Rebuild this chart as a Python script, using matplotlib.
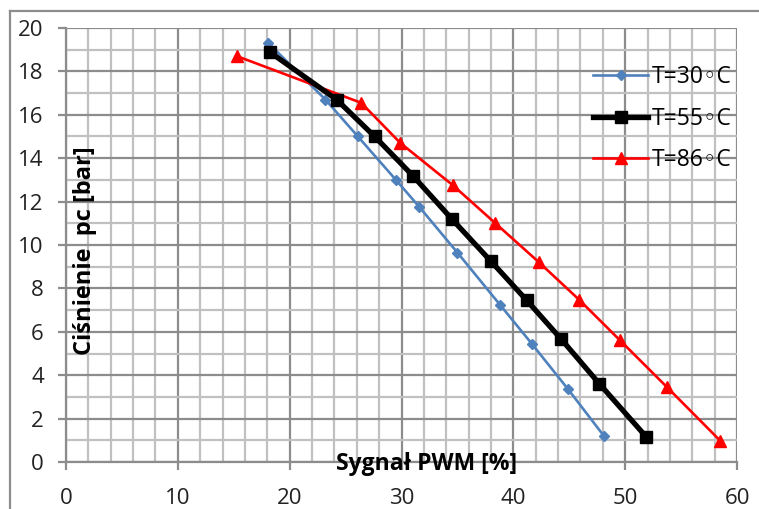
import matplotlib
matplotlib.use("Agg")
import matplotlib.pyplot as plt
from matplotlib.lines import Line2D
from matplotlib.ticker import MultipleLocator

plt.rcParams['font.family'] = ['Open Sans', 'DejaVu Sans']

# dane
pwm_30 = [18.1, 23.2, 26.1, 29.5, 31.6, 35.0, 38.8, 41.65, 44.9, 48.1]
pc_30 = [19.3, 16.7, 15.0, 13.0, 11.75, 9.65, 7.25, 5.45, 3.35, 1.2]

pwm_55 = [18.2, 24.2, 27.6, 31.0, 34.5, 38.0, 41.2, 44.3, 47.7, 51.9]
pc_55 = [18.9, 16.7, 15.0, 13.2, 11.2, 9.25, 7.45, 5.65, 3.6, 1.15]

pwm_86 = [15.3, 26.4, 29.9, 34.6, 38.4, 42.3, 45.9, 49.55, 53.7, 58.5]
pc_86 = [18.7, 16.55, 14.7, 12.75, 11.0, 9.2, 7.47, 5.6, 3.47, 0.98]

labels = ["T=30◦C", "T=55◦C", "T=86◦C"]

W, H = 759, 509
fig = plt.figure(figsize=(W / 100, H / 100), dpi=100)
ax = fig.add_axes([66 / W, 1 - 462 / H, (737 - 66) / W, (462 - 28) / H])

ax.plot(pwm_30, pc_30, color='#4f81bd', lw=1.9, marker='D', ms=5.5, label=labels[0], zorder=3)
ax.plot(pwm_55, pc_55, color='black', lw=3.8, marker='s', ms=9, label=labels[1], zorder=4)
ax.plot(pwm_86, pc_86, color='#ff0000', lw=1.9, marker='^', ms=8, label=labels[2], zorder=3)

ax.set_xlim(0, 60)
ax.set_ylim(0, 20)
ax.xaxis.set_major_locator(MultipleLocator(10))
ax.xaxis.set_minor_locator(MultipleLocator(2))
ax.yaxis.set_major_locator(MultipleLocator(2))
ax.yaxis.set_minor_locator(MultipleLocator(1))
ax.grid(which='minor', color='#c0c0c0', lw=1.6)
ax.grid(which='major', color='#8c8c8c', lw=1.6)
ax.set_axisbelow(True)

for s in ['top', 'right']:
    ax.spines[s].set_visible(False)
for s in ['left', 'bottom']:
    ax.spines[s].set_color('#8c8c8c')
    ax.spines[s].set_linewidth(1.6)
ax.tick_params(which='major', length=6, width=1.6, color='#8c8c8c', labelsize=16,
               labelcolor='#222222')
ax.tick_params(which='minor', length=0)
ax.tick_params(axis='y', pad=10)
ax.tick_params(axis='x', pad=13)

ax.text(0.028, 0.488, "Ciśnienie  pc [bar]", rotation=90, transform=ax.transAxes,
        ha='center', va='center', fontsize=17, fontweight='bold')
ax.text(0.538, -0.004, "Sygnał PWM [%]", transform=ax.transAxes,
        ha='center', va='center', fontsize=16.5, fontweight='bold')

ax.legend(loc='upper left', bbox_to_anchor=(0.772, 0.935), frameon=False,
          fontsize=16.5, handlelength=2.4, handletextpad=0.17, labelspacing=0.75,
          borderaxespad=0)

# ramka obszaru wykresu
fig.add_artist(Line2D([10 / W, 10 / W], [0, 1 - 11 / H], color='#8c8c8c', lw=1.6))
fig.add_artist(Line2D([10 / W, 1], [1 - 11 / H, 1 - 11 / H], color='#8c8c8c', lw=1.6))

fig.savefig("out.png", dpi=100)
